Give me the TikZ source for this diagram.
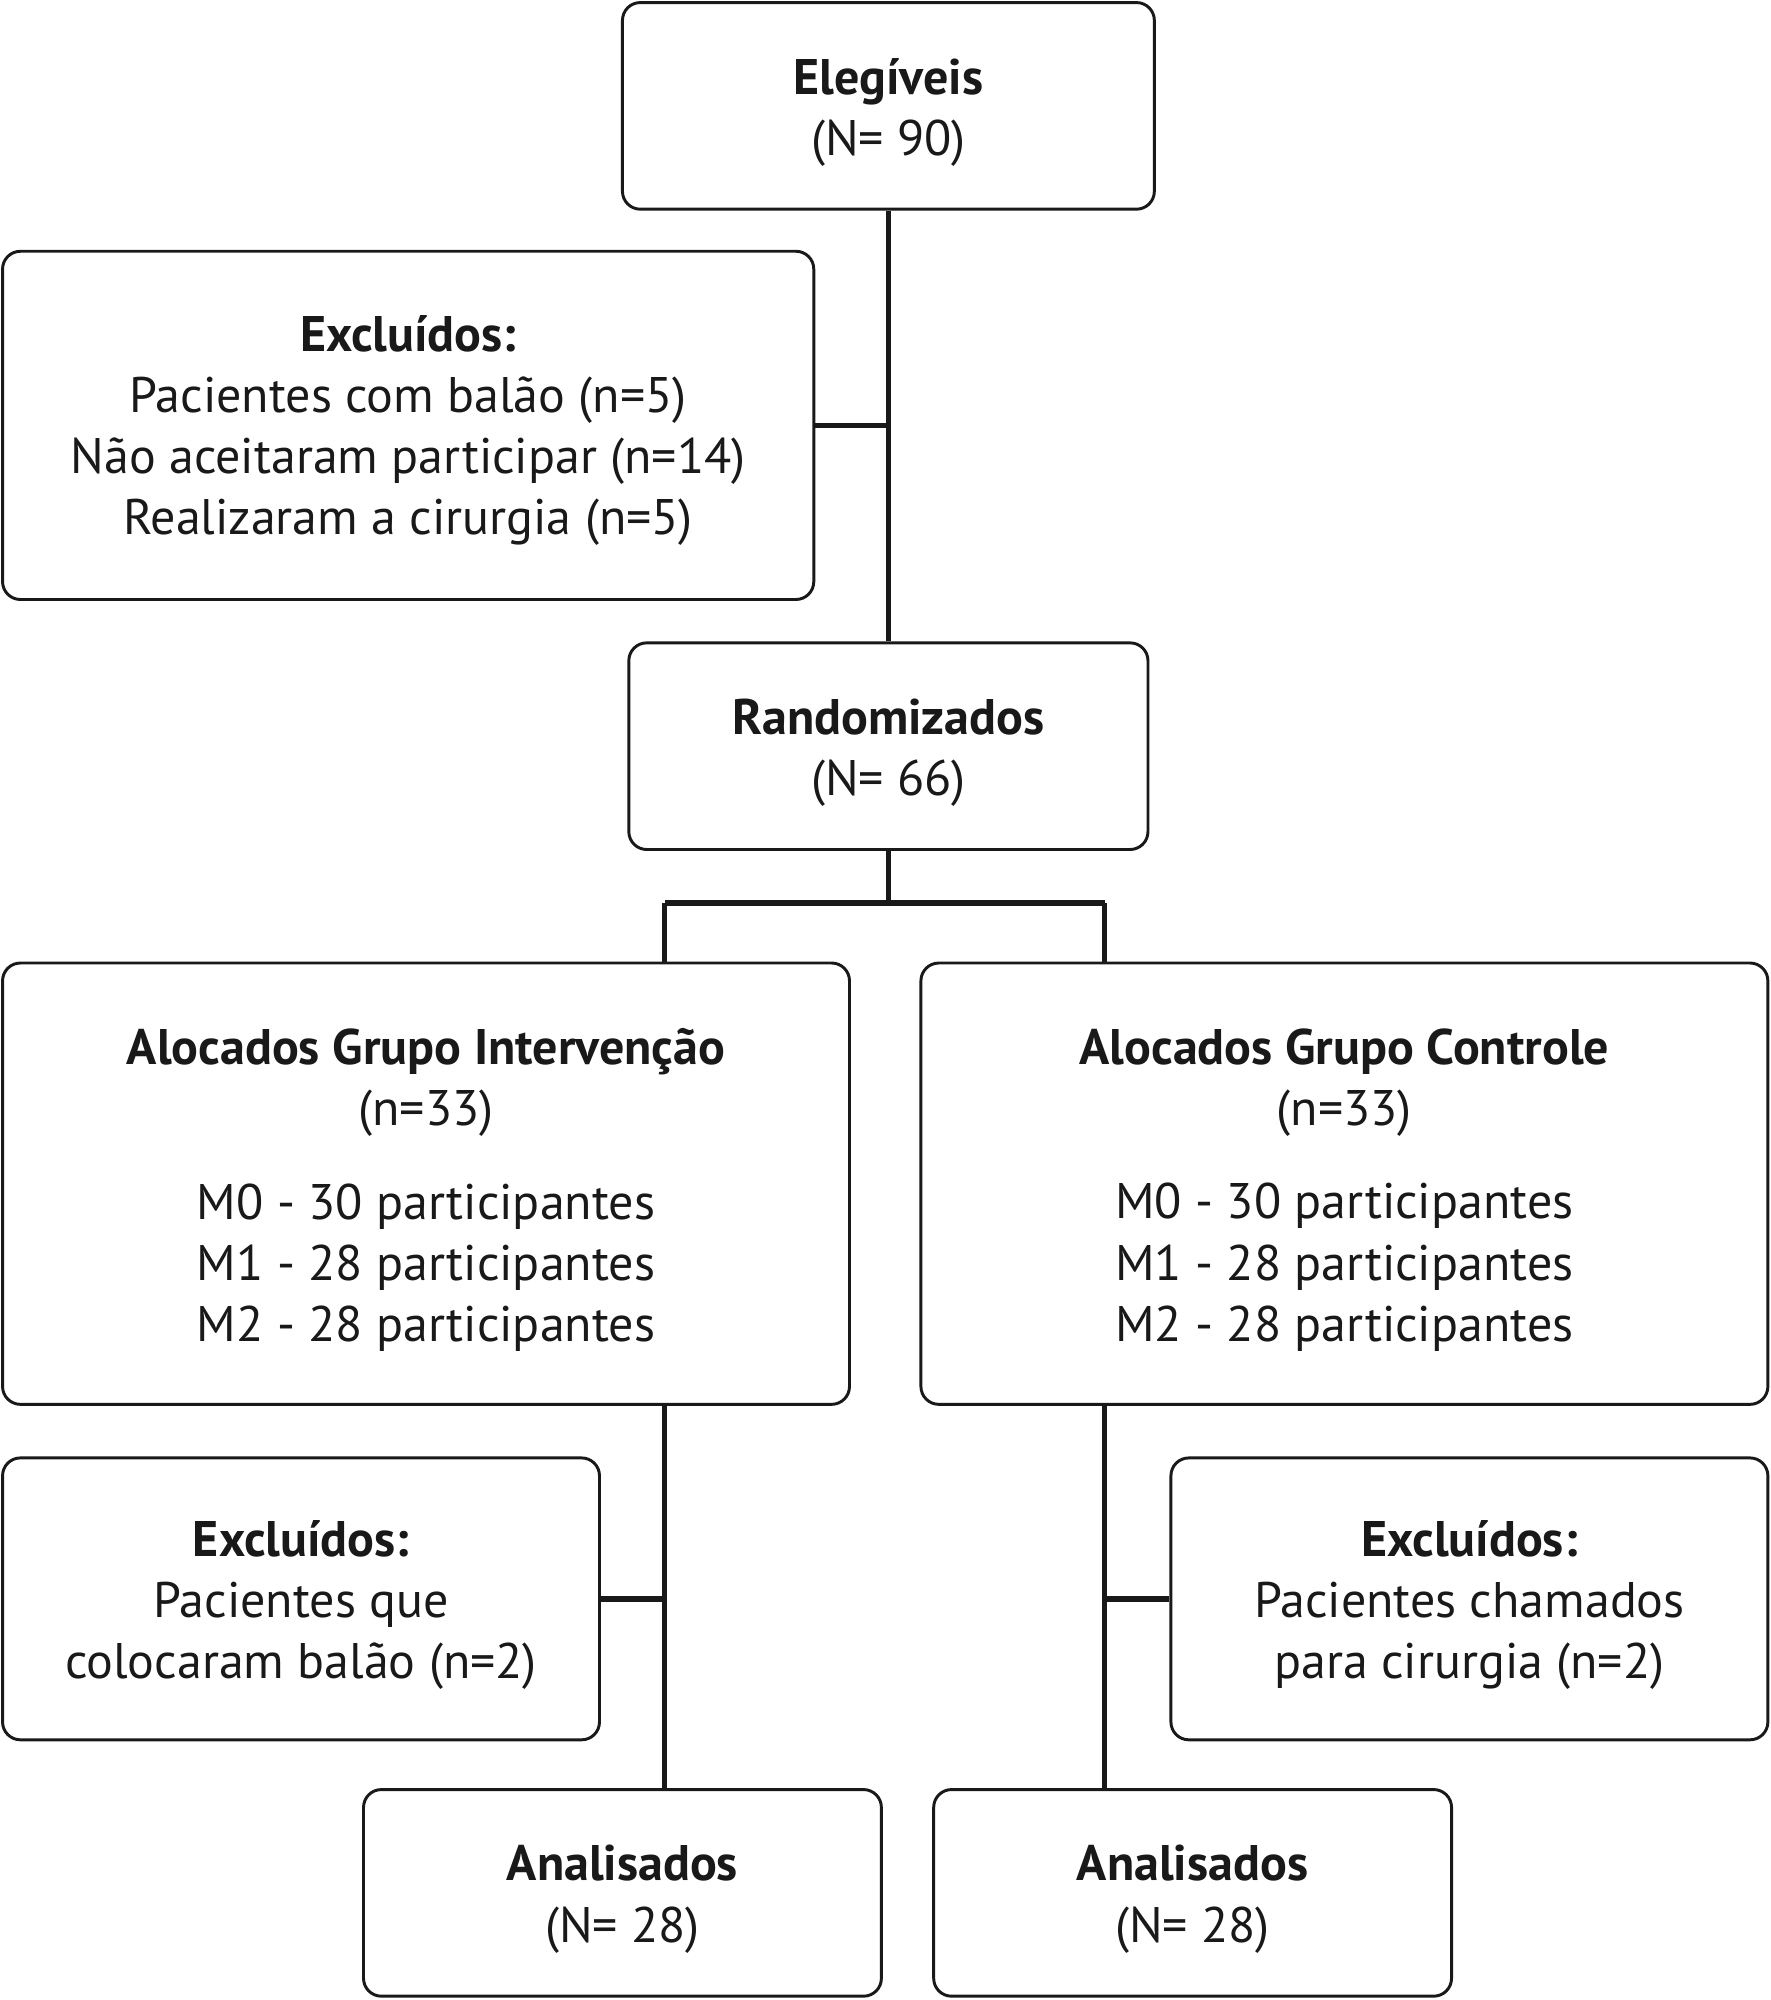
\documentclass[tikz,border=0pt]{standalone}
\usepackage{fontspec}
\setmainfont{PT Sans}
\begin{document}
\begin{tikzpicture}[x=0.5pt,y=-0.5pt,
  box/.style={draw=black!90, line width=1.15pt, rounded corners=7pt, inner sep=0pt},
  txt/.style={align=center, inner sep=0pt, font=\fontsize{19.6}{24}\selectfont, text=black!90},
  conn/.style={draw=black!90, line width=2.2pt}]
\useasboundingbox (0,0) rectangle (1388,1568);
\node[box, minimum width=208.5pt, minimum height=81pt] (eleg) at (696.5,83) {};
\node[box, minimum width=318pt, minimum height=136.5pt] (exc1) at (320,333.5) {};
\node[box, minimum width=203.5pt, minimum height=81pt] (rand) at (696.5,585) {};
\node[box, minimum width=332pt, minimum height=173pt] (int) at (334,928) {};
\node[box, minimum width=332pt, minimum height=173pt] (ctl) at (1054,928) {};
\node[box, minimum width=234pt, minimum height=110.5pt] (exc2) at (236,1253.5) {};
\node[box, minimum width=234pt, minimum height=110.5pt] (exc3) at (1152,1253.5) {};
\node[box, minimum width=203pt, minimum height=81pt] (an1) at (488,1484) {};
\node[box, minimum width=203pt, minimum height=81pt] (an2) at (935,1484) {};
\node[txt] (elegt) at ([yshift=-2.5pt]eleg.center) {\textbf{Elegíveis}\\(N= 90)};
\node[txt] (exc1t) at ([yshift=-2pt]exc1.center) {\textbf{Excluídos:}\\Pacientes com balão (n=5)\\Não aceitaram participar (n=14)\\Realizaram a cirurgia (n=5)};
\node[txt] (randt) at ([yshift=-2.5pt]rand.center) {\textbf{Randomizados}\\(N= 66)};
\node[txt] (intt) at ([yshift=-2.5pt]int.center) {\textbf{Alocados Grupo Intervenção}\\(n=33)\\[12.5pt]M0 - 30 participantes\\M1 - 28 participantes\\M2 - 28 participantes};
\node[txt] (ctlt) at ([yshift=-2.5pt]ctl.center) {\textbf{Alocados Grupo Controle}\\(n=33)\\[12.5pt]M0 - 30 participantes\\M1 - 28 participantes\\M2 - 28 participantes};
\node[txt] (exc2t) at ([yshift=-2.5pt]exc2.center) {\textbf{Excluídos:}\\Pacientes que\\colocaram balão (n=2)};
\node[txt] (exc3t) at ([yshift=-2.5pt]exc3.center) {\textbf{Excluídos:}\\Pacientes chamados\\para cirurgia (n=2)};
\node[txt] (an1t) at ([yshift=-2.5pt]an1.center) {\textbf{Analisados}\\(N= 28)};
\node[txt] (an2t) at ([yshift=-2.5pt]an2.center) {\textbf{Analisados}\\(N= 28)};
\coordinate (split) at (696.5,708);
\coordinate (sl) at (521,708);
\coordinate (sr) at (866,708);
\draw[conn] (eleg.south) -- (rand.north);
\draw[conn] (exc1.east) -- (exc1.east -| eleg.south);
\draw[conn] (rand.south) -- (split);
\draw[conn] (sl) -- (sr);
\draw[conn] (sl) -- (sl |- int.north);
\draw[conn] (sr) -- (sr |- ctl.north);
\draw[conn] (int.south -| sl) -- (an1.north -| sl);
\draw[conn] (ctl.south -| sr) -- (an2.north -| sr);
\draw[conn] (exc2.east) -- (exc2.east -| sl);
\draw[conn] (exc3.west) -- (exc3.west -| sr);
\end{tikzpicture}
\end{document}
